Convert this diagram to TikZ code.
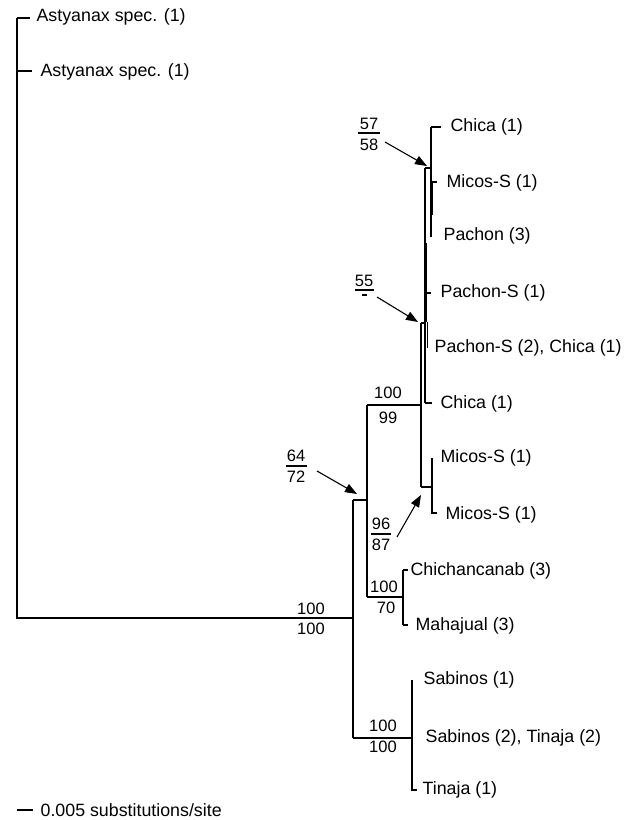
\documentclass[tikz,border=0pt]{standalone}
\usepackage{fontspec}
\setmainfont{Liberation Sans}
\usetikzlibrary{arrows.meta}
\begin{document}
\begin{tikzpicture}[x=1pt,y=-1pt,line width=1.25pt,
  taxon/.style={anchor=west,inner sep=0pt,font=\fontsize{17.8}{20}\selectfont},
  bs/.style={inner sep=0pt,font=\fontsize{16.5}{18}\selectfont},
  pointer/.style={-{Triangle[length=12pt,width=9pt]},line width=1.1pt},
  fracbar/.style={line width=1.1pt}]
\useasboundingbox (0,0) rectangle (636,820);

% ---- taxon labels
\node[taxon] (ast1) at (36,17) {Astyanax spec. (1)};
\node[taxon] (ast2) at (40,72) {Astyanax spec. (1)};
\node[taxon] (chica1) at (450,127) {Chica (1)};
\node[taxon] (micos1) at (446,183) {Micos-S (1)};
\node[taxon] (pachon) at (443,236) {Pachon (3)};
\node[taxon] (pachs1) at (440,293) {Pachon-S (1)};
\node[taxon] (pachs2) at (434,348) {Pachon-S (2), Chica (1)};
\node[taxon] (chica2) at (440,404) {Chica (1)};
\node[taxon] (micos2) at (440,458) {Micos-S (1)};
\node[taxon] (micos3) at (445,515) {Micos-S (1)};
\node[taxon] (chich) at (410,571) {Chichancanab (3)};
\node[taxon] (maha) at (415,626) {Mahajual (3)};
\node[taxon] (sab1) at (423,680) {Sabinos (1)};
\node[taxon] (sabtin) at (425,738) {Sabinos (2), Tinaja (2)};
\node[taxon] (tin1) at (422,790) {Tinaja (1)};
\node[taxon] (scale) at (40,810) {0.005 substitutions/site};

% ---- tree coordinates
\coordinate (rtop) at (17,18);
\coordinate (rast2) at (17,71);
\coordinate (rbot) at (17,618);
\coordinate (m) at (353,618);
\coordinate (mtop) at (353,500);
\coordinate (mbot) at (353,738);
\coordinate (b) at (367,500);
\coordinate (btop) at (367,405);
\coordinate (bbot) at (367,597);
\coordinate (a) at (421,405);
\coordinate (atop) at (421,323);
\coordinate (abot) at (421,487);
\coordinate (c) at (425,323);
\coordinate (ctop) at (425,168);
\coordinate (cbot) at (425,403);
\coordinate (d) at (431,168);
\coordinate (dtop) at (431,127);
\coordinate (dmic) at (431,182);
\coordinate (dbot) at (431,237);
\coordinate (cps1) at (425,293);
\coordinate (ps2top) at (426.3,243);
\coordinate (ps2mid) at (426.3,322);
\coordinate (ps2a) at (427.8,322);
\coordinate (ps2bot) at (427.8,348);
\coordinate (e) at (432,487);
\coordinate (etop) at (432,458);
\coordinate (ebot) at (432,513);
\coordinate (f) at (403,597);
\coordinate (ftop) at (403,570);
\coordinate (fbot) at (403,625);
\coordinate (g) at (412,738);
\coordinate (gtop) at (412,680);
\coordinate (gbot) at (412,790);
\coordinate (sc0) at (17,810);

% ---- outgroup and root
\draw (rtop) -- (rbot) -- (m);
\draw (rtop) -- ++(13,0);
\draw (rast2) -- ++(15,0);
% ---- ingroup
\draw (mtop) -- (mbot);
\draw (mtop) -- (b);
\draw (btop) -- (bbot);
\draw (btop) -- (a);
\draw (atop) -- (abot);
\draw (atop) -- (c);
\draw (ctop) -- (cbot);
\draw (ctop) -- (d);
\draw (dtop) -- (dbot);
\draw (dtop) -- ++(10,0);
\draw (dmic) -- ++(6,0);
\draw ([xshift=1.8pt]dmic) -- ++(0,33);
\draw (cps1) -- ++(6,0);
\draw[line width=2.2pt] (ps2top) -- (ps2mid);
\draw (ps2a) -- (ps2bot);
\draw (cbot) -- ++(7,0);
\draw (abot) -- (e);
\draw (etop) -- (ebot) -- ++(5,0);
\draw (bbot) -- (f);
\draw (ftop) -- (fbot);
\draw (ftop) -- ++(5,0);
\draw (fbot) -- ++(5,0);
\draw (mbot) -- (g);
\draw (gtop) -- (gbot) -- ++(5,0);
\draw (sc0) -- ++(16,0);

% ---- support values
\node[bs] (b57) at (369,124) {57};
\node[bs] (b58) at (369,145) {58};
\draw[fracbar] (358,133) -- (380,133);
\coordinate (t57) at (385,142);
\coordinate (h57) at (427,166);
\draw[pointer] (t57) -- (h57);

\node[bs] (b55) at (364,281) {55};
\draw[fracbar] (355,290) -- (374,290);
\draw[line width=1.4pt] (362,295) -- (367,295);
\coordinate (t55) at (377,297);
\coordinate (h55) at (418,322);
\draw[pointer] (t55) -- (h55);

\node[bs] (b100a) at (388,393) {100};
\node[bs] (b99) at (388,418) {99};

\node[bs] (b64) at (296,456) {64};
\node[bs] (b72) at (296,477) {72};
\draw[fracbar] (286,466) -- (307,466);
\coordinate (t64) at (317,471);
\coordinate (h64) at (357,494);
\draw[pointer] (t64) -- (h64);

\node[bs] (b96) at (381,524) {96};
\node[bs] (b87) at (381,545) {87};
\draw[fracbar] (371,534) -- (391,534);
\coordinate (t96) at (397,537);
\coordinate (h96) at (421,495);
\draw[pointer] (t96) -- (h96);

\node[bs] (b100c) at (384,587) {100};
\node[bs] (b70) at (386,608) {70};

\node[bs] (b100r1) at (311,609) {100};
\node[bs] (b100r2) at (311,629) {100};

\node[bs] (b100s1) at (383,726) {100};
\node[bs] (b100s2) at (383,747) {100};
\end{tikzpicture}
\end{document}
